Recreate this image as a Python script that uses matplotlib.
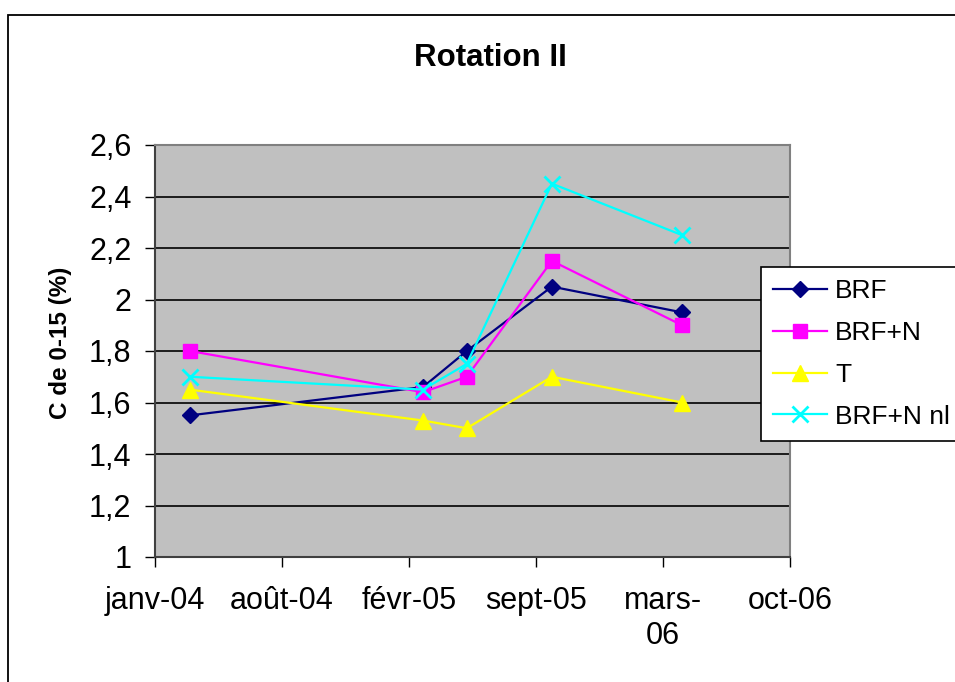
import datetime as dt
import matplotlib
matplotlib.use("Agg")
import matplotlib.pyplot as plt
from matplotlib.patches import Rectangle

plt.rcParams['font.family'] = ['Liberation Sans', 'DejaVu Sans']

# sampling dates and carbon content (%) in the 0-15 cm layer
dates = [dt.date(2004, 3, 9), dt.date(2005, 3, 11), dt.date(2005, 5, 19),
         dt.date(2005, 9, 30), dt.date(2006, 4, 23)]
brf = [1.55, 1.66, 1.80, 2.05, 1.95]
brf_n = [1.80, 1.64, 1.70, 2.15, 1.90]
t = [1.65, 1.53, 1.50, 1.70, 1.60]
brf_n_nl = [1.70, 1.65, 1.75, 2.45, 2.25]

# axis ticks every 200 days starting 14/01/2004
tick_dates = [dt.date(2004, 1, 14) + dt.timedelta(days=200 * i) for i in range(6)]
tick_labels = ['janv-04', 'août-04', 'févr-05', 'sept-05', 'mars-\n06', 'oct-06']
y_ticks = [1, 1.2, 1.4, 1.6, 1.8, 2, 2.2, 2.4, 2.6]
y_labels = ['1', '1,2', '1,4', '1,6', '1,8', '2', '2,2', '2,4', '2,6']

W, H = 955, 682
fig = plt.figure(figsize=(W / 100, H / 100), dpi=100)
ax = fig.add_axes([155 / W, 1 - 557 / H, (790 - 155) / W, (557 - 145) / H])
ax.set_facecolor('#C0C0C0')

ax.plot(dates, brf, color='#000080', marker='D', ms=8, lw=1.6, label='BRF')
ax.plot(dates, brf_n, color='#FF00FF', marker='s', ms=10, lw=1.6, label='BRF+N')
ax.plot(dates, t, color='#FFFF00', marker='^', ms=11, lw=1.6, label='T')
ax.plot(dates, brf_n_nl, color='#00FFFF', marker='x', ms=11, mew=2, lw=1.6,
        label='BRF+N nl')

ax.set_ylim(1, 2.6)
ax.set_yticks(y_ticks)
ax.set_yticklabels(y_labels)
ax.set_xlim(tick_dates[0], tick_dates[-1])
ax.set_xticks(tick_dates)
ax.set_xticklabels(tick_labels, linespacing=1.2)
ax.yaxis.grid(True, color='black', lw=1.2)
ax.set_axisbelow(True)

ax.tick_params(axis='y', labelsize=22, length=7, width=1, direction='out', pad=10)
ax.tick_params(axis='x', labelsize=22, length=7, width=1, direction='out', pad=14)
for side in ['top', 'right']:
    ax.spines[side].set_color('#808080')
    ax.spines[side].set_linewidth(1.5)
ax.spines['left'].set_color('#404040')
ax.spines['bottom'].set_color('#404040')
ax.spines['left'].set_linewidth(1.5)
ax.spines['bottom'].set_linewidth(1.5)

ax.set_ylabel('C de 0-15 (%)', fontsize=17.5, fontweight='bold')
ax.yaxis.set_label_coords(-0.13, 0.52)
fig.text(490 / W, 1 - 58 / H, 'Rotation II', fontsize=22.5, fontweight='bold',
         ha='center', va='center')

leg = fig.legend(loc='upper left', bbox_to_anchor=(761 / W, 1 - 267 / H),
                 fontsize=19, frameon=True, fancybox=False, handlelength=2.05,
                 borderpad=0.45, labelspacing=0.68, handletextpad=0.3,
                 borderaxespad=0, framealpha=1)
leg.get_frame().set_edgecolor('black')
leg.get_frame().set_facecolor('white')
leg.get_frame().set_linewidth(1.2)

# chart area border
fig.patches.append(Rectangle((8 / W, -0.05), 1.2, 1 - 15 / H + 0.05,
                             transform=fig.transFigure, fill=False,
                             edgecolor='black', lw=1.3))

fig.savefig('out.png', dpi=100)
